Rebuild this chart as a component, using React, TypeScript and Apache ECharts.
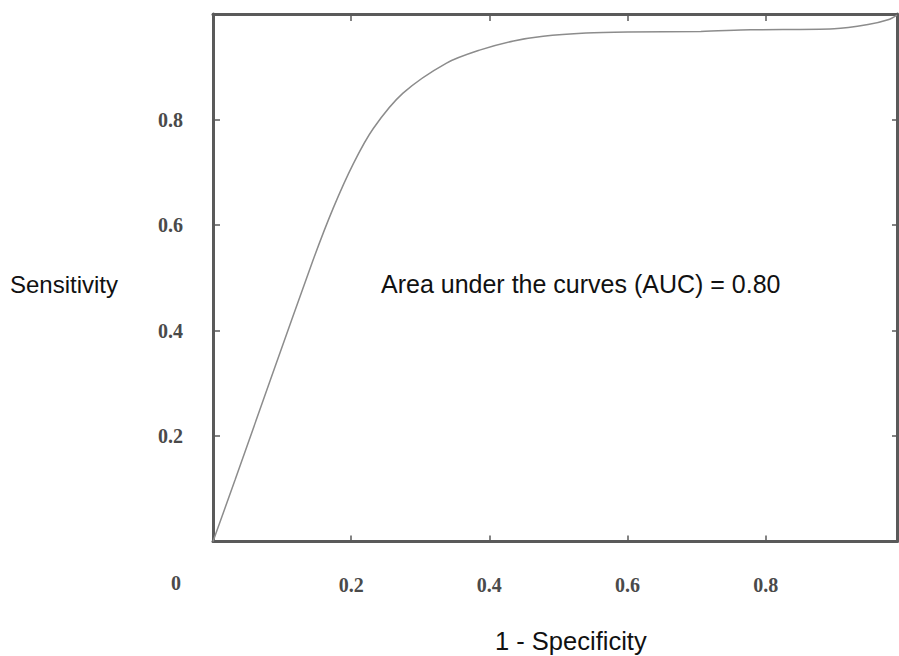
import React, { useEffect, useRef } from "react";
import * as echarts from "echarts";

const fpr = [0, 0.032, 0.083, 0.145, 0.174, 0.203, 0.232, 0.275, 0.338, 0.387, 0.435, 0.478, 0.54, 0.6, 0.706, 0.778, 0.899, 0.948, 0.977, 0.99];
const tpr = [0, 0.117, 0.306, 0.534, 0.632, 0.716, 0.783, 0.85, 0.907, 0.932, 0.949, 0.958, 0.964, 0.966, 0.967, 0.97, 0.972, 0.98, 0.989, 0.998];
const tickLabels = ["0.2", "0.4", "0.6", "0.8"];
const xTitle = "1 - Specificity";
const yTitle = "Sensitivity";
const aucText = "Area under the curves (AUC) = 0.80";

export default function App() {
  const ref = useRef<HTMLDivElement>(null);
  useEffect(() => {
    if (!ref.current) return;
    const chart = echarts.init(ref.current, null, { renderer: "svg" });
    const fmt = (v: number) => {
      const s = v.toFixed(1);
      return tickLabels.includes(s) && Math.abs(v - parseFloat(s)) < 1e-6 ? s : "";
    };
    const labelStyle = {
      fontFamily: "Liberation Serif",
      fontWeight: "bold" as const,
      fontSize: 20,
      color: "#4a4a4a",
    };
    const lineStyle = { color: "#5a5a5a", width: 3 };
    const tickStyle = { color: "#5a5a5a", width: 1.5 };
    chart.setOption({
      animation: false,
      backgroundColor: "#fff",
      grid: { left: 213, top: 14, right: 2, bottom: 114.5, containLabel: false },
      xAxis: [
        {
          type: "value",
          min: 0,
          max: 0.99,
          interval: 0.2,
          position: "bottom",
          axisLine: { show: true, onZero: false, lineStyle },
          axisTick: { show: true, inside: true, length: 6, lineStyle: tickStyle },
          splitLine: { show: false },
          axisLabel: { ...labelStyle, margin: 33, formatter: fmt, showMaxLabel: false },
        },
        {
          type: "value",
          min: 0,
          max: 0.99,
          interval: 0.2,
          position: "top",
          axisLine: { show: true, onZero: false, lineStyle },
          axisTick: { show: true, inside: true, length: 7, lineStyle: tickStyle },
          splitLine: { show: false },
          axisLabel: { show: false },
        },
      ],
      yAxis: [
        {
          type: "value",
          min: 0,
          max: 1,
          interval: 0.2,
          position: "left",
          axisLine: { show: true, onZero: false, lineStyle },
          axisTick: { show: true, inside: true, length: 7, lineStyle: tickStyle },
          splitLine: { show: false },
          axisLabel: { ...labelStyle, margin: 30, formatter: fmt },
        },
        {
          type: "value",
          min: 0,
          max: 1,
          interval: 0.2,
          position: "right",
          axisLine: { show: true, onZero: false, lineStyle },
          axisTick: { show: true, inside: true, length: 5, lineStyle: tickStyle },
          splitLine: { show: false },
          axisLabel: { show: false },
        },
      ],
      series: [
        {
          type: "line",
          data: fpr.map((x, i) => [x, tpr[i]]),
          smooth: 0.3,
          showSymbol: false,
          lineStyle: { color: "#8c8c8c", width: 1.5 },
          z: 1,
        },
      ],
      graphic: [
        {
          type: "text",
          left: 171,
          top: 573,
          style: { text: "0", font: "bold 20px 'Liberation Serif'", fill: "#4a4a4a" },
        },
        {
          type: "text",
          left: 10,
          top: 272,
          style: { text: yTitle, font: "24px 'Liberation Sans'", fill: "#111" },
        },
        {
          type: "text",
          left: 381,
          top: 271,
          style: { text: aucText, font: "25px 'Liberation Sans'", fill: "#111" },
        },
        {
          type: "text",
          left: 495,
          top: 628,
          style: { text: xTitle, font: "25.5px 'Liberation Sans'", fill: "#111" },
        },
      ],
    });
    return () => chart.dispose();
  }, []);
  return <div ref={ref} style={{ width: 899, height: 656, position: "absolute", left: 0, top: 0 }} />;
}
